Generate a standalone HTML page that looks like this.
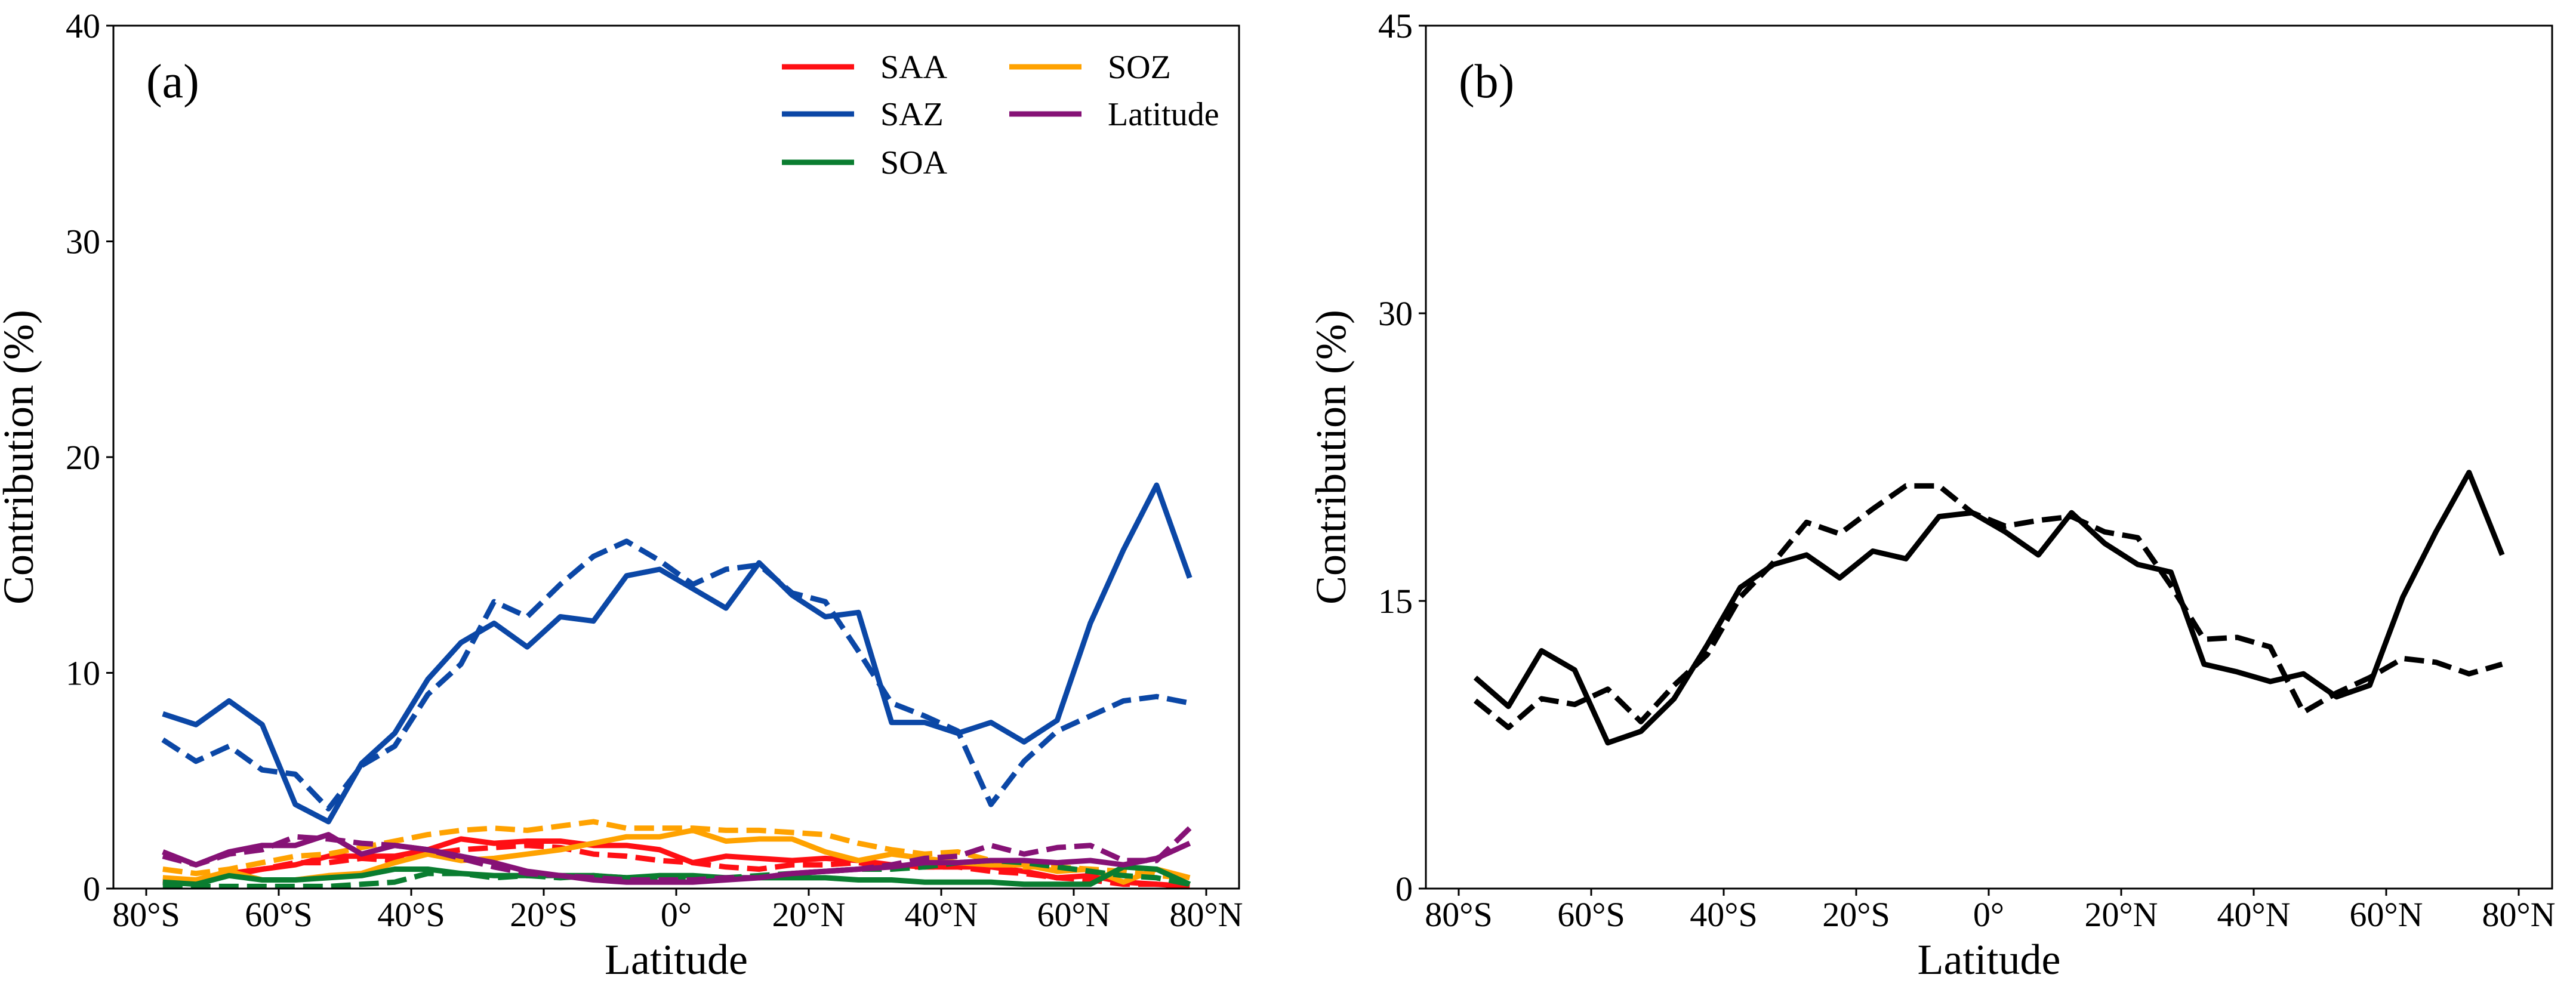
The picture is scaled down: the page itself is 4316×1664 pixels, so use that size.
<!DOCTYPE html>
<html><head><meta charset="utf-8"><style>
html,body{margin:0;padding:0;background:#fff;}
text{font-family:"Liberation Serif","Times New Roman",Times,serif;fill:#000;}
</style></head><body>
<svg id="chart" width="4316" height="1659" viewBox="0 0 4316 1659" xmlns="http://www.w3.org/2000/svg" font-family="Liberation Serif, Times New Roman, serif"></svg>
<script>
const lats = [-77.5,-72.5,-67.5,-62.5,-57.5,-52.5,-47.5,-42.5,-37.5,-32.5,-27.5,-22.5,-17.5,-12.5,-7.5,-2.5,2.5,7.5,12.5,17.5,22.5,27.5,32.5,37.5,42.5,47.5,52.5,57.5,62.5,67.5,72.5,77.5];
const xTicks = [-80,-60,-40,-20,0,20,40,60,80];
const xTickLabels = ["80°S","60°S","40°S","20°S","0°","20°N","40°N","60°N","80°N"];
const yTicksA = [0,10,20,30,40];
const yTicksB = [0,15,30,45];
const saaSolid = [0.3,0.3,0.7,0.9,1.1,1.5,1.5,1.5,1.8,2.3,2.1,2.2,2.2,2.0,2.0,1.8,1.2,1.5,1.4,1.3,1.4,1.3,1.1,1.0,1.0,1.0,0.8,0.5,0.6,0.3,0.2,0.1];
const saaDash = [0.2,0.3,0.6,0.9,1.2,1.2,1.4,1.3,1.6,1.8,1.9,2.0,1.9,1.6,1.5,1.3,1.2,1.0,0.9,1.1,1.1,1.2,1.0,1.0,1.0,0.8,0.7,0.5,0.4,0.2,0.2,0.1];
const sazSolid = [8.1,7.6,8.7,7.6,3.9,3.1,5.8,7.2,9.7,11.4,12.3,11.2,12.6,12.4,14.5,14.8,13.9,13.0,15.1,13.6,12.6,12.8,7.7,7.7,7.2,7.7,6.8,7.8,12.3,15.7,18.7,14.4];
const sazDash = [6.9,5.9,6.6,5.5,5.3,3.7,5.7,6.6,9.0,10.4,13.3,12.6,14.1,15.4,16.1,15.2,14.1,14.8,15.0,13.7,13.3,11.0,8.6,8.0,7.3,3.9,5.9,7.3,8.0,8.7,8.9,8.6];
const sozSolid = [0.5,0.4,0.8,0.4,0.4,0.6,0.7,1.2,1.6,1.3,1.4,1.6,1.8,2.1,2.4,2.4,2.7,2.2,2.3,2.3,1.7,1.3,1.6,1.4,1.2,1.1,1.1,0.8,0.9,0.3,0.9,0.5];
const sozDash = [0.9,0.7,0.9,1.2,1.5,1.6,1.9,2.2,2.5,2.7,2.8,2.7,2.9,3.1,2.8,2.8,2.8,2.7,2.7,2.6,2.5,2.1,1.8,1.6,1.7,1.3,1.0,1.0,0.9,0.8,0.6,0.5];
const soaSolid = [0.3,0.2,0.6,0.4,0.4,0.5,0.6,0.9,0.9,0.7,0.6,0.6,0.6,0.6,0.5,0.6,0.6,0.5,0.5,0.5,0.5,0.4,0.4,0.3,0.3,0.3,0.2,0.2,0.2,1.0,0.9,0.2];
const soaDash = [0.1,0.1,0.1,0.1,0.1,0.1,0.2,0.3,0.7,0.7,0.5,0.6,0.5,0.6,0.5,0.5,0.5,0.5,0.6,0.7,0.8,0.9,0.9,1.0,1.2,1.3,1.2,1.0,0.8,0.6,0.5,0.2];
const latSolid = [1.7,1.1,1.7,2.0,2.0,2.5,1.6,2.0,1.8,1.5,1.2,0.8,0.6,0.4,0.3,0.3,0.3,0.4,0.5,0.7,0.8,0.9,1.0,1.2,1.2,1.3,1.3,1.2,1.3,1.1,1.4,2.1];
const latDash = [1.5,1.1,1.6,1.8,2.4,2.3,2.1,2.0,1.8,1.4,1.0,0.7,0.6,0.5,0.4,0.4,0.4,0.5,0.5,0.7,0.8,0.9,1.1,1.4,1.5,2.0,1.6,1.9,2.0,1.3,1.3,2.8];
const totSolid = [11.0,9.5,12.4,11.4,7.6,8.2,9.9,12.7,15.7,16.9,17.4,16.2,17.6,17.2,19.4,19.6,18.6,17.4,19.6,18.0,16.9,16.5,11.7,11.3,10.8,11.2,10.0,10.6,15.2,18.6,21.7,17.4];
const totDash = [9.8,8.4,9.9,9.6,10.4,8.7,10.6,12.2,15.2,17.0,19.1,18.5,19.8,21.0,21.0,19.6,18.9,19.2,19.4,18.6,18.3,15.8,13.0,13.1,12.6,9.2,10.2,11.0,12.0,11.8,11.2,11.7];

const NS = "http://www.w3.org/2000/svg";
const FONT = "Liberation Serif, Times New Roman, serif";
const svg = document.getElementById('chart');
function mk(tag, attrs, parent){
  const e = document.createElementNS(NS, tag);
  for (const k in attrs) e.setAttribute(k, attrs[k]);
  if (tag === 'text') e.setAttribute('font-family', FONT);
  (parent||svg).appendChild(e);
  return e;
}
const TOP = 43, BOT = 1489;
function panel(left, right, lat0, ymax, yTicks, label, series, pname){
  const g = mk('g', {});
  
  
  const xs = v => lat0 + v * 11.1;
  const ys = v => BOT - v / ymax * (BOT - TOP);
  series.forEach(s => {
    const d = lats.map((la,i) => (i?'L':'M') + xs(la).toFixed(1) + ',' + ys(s.vals[i]).toFixed(1)).join(' ');
    const p = mk('path', {d:d, fill:'none', stroke:s.color, 'stroke-width':9, 'stroke-linejoin':'round'}, g);
    if (s.dash) p.setAttribute('stroke-dasharray','33,14');
    
    
  });
  const fr = mk('rect', {x:left, y:TOP, width:right-left, height:BOT-TOP, fill:'none', stroke:'#000', 'stroke-width':3}, g);
  
  
  xTicks.forEach((t,i) => {
    const x = xs(t);
    mk('line', {x1:x, x2:x, y1:BOT, y2:BOT+12, stroke:'#000', 'stroke-width':3}, g);
    const tx = mk('text', {x:x, y:1552, 'font-size':58, 'text-anchor':'middle'}, g);
    tx.textContent = xTickLabels[i];
    
    
  });
  yTicks.forEach(t => {
    const y = ys(t);
    mk('line', {x1:left-12, x2:left, y1:y, y2:y, stroke:'#000', 'stroke-width':3}, g);
    const ty = mk('text', {x:left-22, y:y+20, 'font-size':58, 'text-anchor':'end'}, g);
    ty.textContent = t;
    
    
  });
  const xl = mk('text', {x:(left+right)/2, y:1632, 'font-size':72, 'text-anchor':'middle'}, g);
  xl.textContent = 'Latitude';
  
  
  const yx = left - 135;
  const yl = mk('text', {x:yx, y:(TOP+BOT)/2, 'font-size':72, 'text-anchor':'middle', transform:'rotate(-90 '+yx+' '+((TOP+BOT)/2)+')'}, g);
  yl.textContent = 'Contribution (%)';
  
  
  const pl = mk('text', {x:left+55, y:163, 'font-size':80}, g);
  pl.textContent = label;
  
  
}
const C = {saa:'#ff0f14', saz:'#0b47a6', soa:'#0a7d30', soz:'#ffa200', lat:'#861276'};
panel(190, 2076, 1133, 40, yTicksA, '(a)', [
  {vals:saaSolid, color:C.saa, name:'saa-solid-line'},
  {vals:saaDash, color:C.saa, dash:1, name:'saa-dashed-line'},
  {vals:sozSolid, color:C.soz, name:'soz-solid-line'},
  {vals:sozDash, color:C.soz, dash:1, name:'soz-dashed-line'},
  {vals:soaSolid, color:C.soa, name:'soa-solid-line'},
  {vals:soaDash, color:C.soa, dash:1, name:'soa-dashed-line'},
  {vals:latSolid, color:C.lat, name:'latitude-solid-line'},
  {vals:latDash, color:C.lat, dash:1, name:'latitude-dashed-line'},
  {vals:sazSolid, color:C.saz, name:'saz-solid-line'},
  {vals:sazDash, color:C.saz, dash:1, name:'saz-dashed-line'}
], 'panel-a');
panel(2389, 4276, 3332, 45, yTicksB, '(b)', [
  {vals:totDash, color:'#000', dash:1, name:'total-dashed-line'},
  {vals:totSolid, color:'#000', name:'total-solid-line'}
], 'panel-b');
const legend = mk('g', {});


const legItems = [['SAA',C.saa,1310,112],['SAZ',C.saz,1310,191],['SOA',C.soa,1310,272],['SOZ',C.soz,1691,112],['Latitude',C.lat,1691,191]];
legItems.forEach(it => {
  const e = mk('g', {}, legend);
  
  
  mk('line', {x1:it[2], x2:it[2]+121, y1:it[3], y2:it[3], stroke:it[1], 'stroke-width':9}, e);
  const t = mk('text', {x:it[2]+165, y:it[3]+19, 'font-size':56}, e);
  t.textContent = it[0];
});
</script>
</body></html>
